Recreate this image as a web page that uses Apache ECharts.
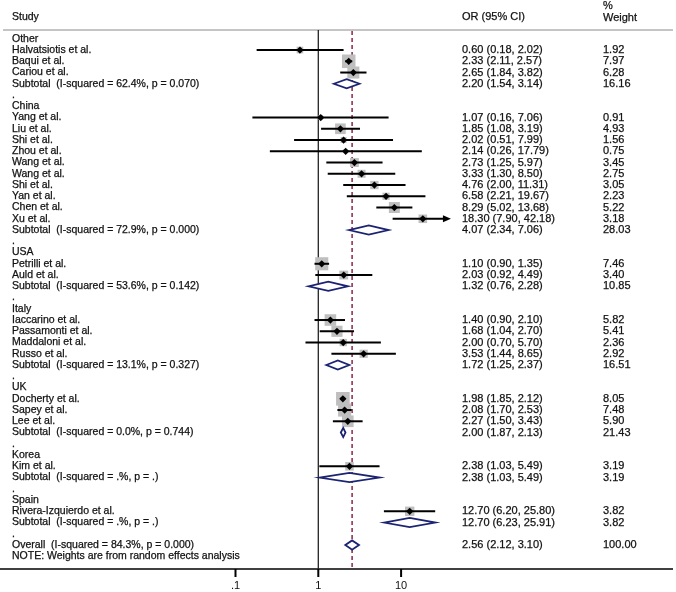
<!DOCTYPE html>
<html><head><meta charset="utf-8">
<script src="https://cdn.jsdelivr.net/npm/echarts@6/dist/echarts.min.js"></script>
<style>html,body{margin:0;padding:0;background:#fff}#c{width:676px;height:592px}</style>
</head><body><div id="c"></div>
<script>
// ---------- data ----------
const rowLabels = [
  'Other','Halvatsiotis et al.','Baqui et al.','Cariou et al.','Subtotal  (I-squared = 62.4%, p = 0.070)','.',
  'China','Yang et al.','Liu et al.','Shi et al.','Zhou et al.','Wang et al.','Wang et al.','Shi et al.','Yan et al.','Chen et al.','Xu et al.','Subtotal  (I-squared = 72.9%, p = 0.000)','.',
  'USA','Petrilli et al.','Auld et al.','Subtotal  (I-squared = 53.6%, p = 0.142)','.',
  'Italy','Iaccarino et al.','Passamonti et al.','Maddaloni et al.','Russo et al.','Subtotal  (I-squared = 13.1%, p = 0.327)','.',
  'UK','Docherty et al.','Sapey et al.','Lee et al.','Subtotal  (I-squared = 0.0%, p = 0.744)','.',
  'Korea','Kim et al.','Subtotal  (I-squared = .%, p = .)','.',
  'Spain','Rivera-Izquierdo et al.','Subtotal  (I-squared = .%, p = .)','.',
  'Overall  (I-squared = 84.3%, p = 0.000)'
];
// g = group header, s = study, t = subtotal, b = blank, o = overall
const rowKind = [
  'g','s','s','s','t','b',
  'g','s','s','s','s','s','s','s','s','s','s','t','b',
  'g','s','s','t','b',
  'g','s','s','s','s','t','b',
  'g','s','s','s','t','b',
  'g','s','t','b',
  'g','s','t','b',
  'o'
];
const rowOR = [
  null,0.60,2.33,2.65,2.20,null,
  null,1.07,1.85,2.02,2.14,2.73,3.33,4.76,6.58,8.29,18.30,4.07,null,
  null,1.10,2.03,1.32,null,
  null,1.40,1.68,2.00,3.53,1.72,null,
  null,1.98,2.08,2.27,2.00,null,
  null,2.38,2.38,null,
  null,12.70,12.70,null,
  2.56
];
const rowLo = [
  null,0.18,2.11,1.84,1.54,null,
  null,0.16,1.08,0.51,0.26,1.25,1.30,2.00,2.21,5.02,7.90,2.34,null,
  null,0.90,0.92,0.76,null,
  null,0.90,1.04,0.70,1.44,1.25,null,
  null,1.85,1.70,1.50,1.87,null,
  null,1.03,1.03,null,
  null,6.20,6.23,null,
  2.12
];
const rowHi = [
  null,2.02,2.57,3.82,3.14,null,
  null,7.06,3.19,7.99,17.79,5.97,8.50,11.31,19.67,13.68,42.18,7.06,null,
  null,1.35,4.49,2.28,null,
  null,2.10,2.70,5.70,8.65,2.37,null,
  null,2.12,2.53,3.43,2.13,null,
  null,5.49,5.49,null,
  null,25.80,25.91,null,
  3.10
];
const rowWeight = [
  null,1.92,7.97,6.28,16.16,null,
  null,0.91,4.93,1.56,0.75,3.45,2.75,3.05,2.23,5.22,3.18,28.03,null,
  null,7.46,3.40,10.85,null,
  null,5.82,5.41,2.36,2.92,16.51,null,
  null,8.05,7.48,5.90,21.43,null,
  null,3.19,3.19,null,
  null,3.82,3.82,null,
  100.00
];
const headerTexts = ['Study', 'OR (95% CI)', '%', 'Weight'];
const noteText = 'NOTE: Weights are from random effects analysis';
const tickValues = [0.1, 1, 10];
const tickLabels = ['.1', '1', '10'];
const nullValue = 1;
const arrowClip = 40;

// ---------- style ----------
const FF = '"Liberation Sans", Arial, Helvetica, sans-serif';
const FONT_L = '10.5px ' + FF;
const FONT_N = '11px ' + FF;
const COL_LABEL = 12, COL_OR = 462, COL_W = 603;
const BOX_K = 4.8;
const NAVY = '#1b2372';
const DASH = '#8c2442';
const TXT = '#111';
const AXIS_Y = 569;

const overallIdx = rowKind.indexOf('o');
const textData = rowLabels.map((_, i) => [nullValue, i]);
const markData = [];
rowOR.forEach((v, i) => { if (v != null) markData.push([v, i, rowLo[i], rowHi[i], rowWeight[i]]); });
const refData = [[nullValue, 5, 0], [rowOR[overallIdx], 5, 1]];

function txt(text, x, y, font) {
  return { type: 'text', style: { text: text, x: x, y: y, font: font, fill: TXT, verticalAlign: 'middle', stroke: TXT, lineWidth: 0.25 } };
}

function renderText(params, api) {
  const i = api.value(1);
  const y = api.coord([nullValue, i])[1];
  const ch = [txt(rowLabels[i], COL_LABEL, y, FONT_L)];
  if (rowOR[i] != null) {
    ch.push(txt(rowOR[i].toFixed(2) + ' (' + rowLo[i].toFixed(2) + ', ' + rowHi[i].toFixed(2) + ')', COL_OR, y, FONT_N));
    ch.push(txt(rowWeight[i].toFixed(2), COL_W, y, FONT_N));
  }
  return { type: 'group', children: ch };
}

function renderMark(params, api) {
  const est = api.value(0), i = api.value(1), lo = api.value(2), hi = api.value(3), w = api.value(4);
  const kind = rowKind[i];
  const pm = api.coord([est, i]);
  const xl = api.coord([lo, i])[0];
  const y = pm[1];
  const ch = [];
  if (kind === 's') {
    const clipped = hi > arrowClip;
    const xh = api.coord([clipped ? arrowClip : hi, i])[0];
    const s = BOX_K * Math.sqrt(w);
    ch.push({ type: 'rect', shape: { x: pm[0] - s / 2, y: y - s / 2, width: s, height: s }, style: { fill: '#bfbfbf' } });
    ch.push({ type: 'line', shape: { x1: xl, y1: y, x2: clipped ? xh - 6 : xh, y2: y }, style: { stroke: '#000', lineWidth: 2 } });
    if (clipped) {
      ch.push({ type: 'polygon', shape: { points: [[xh, y], [xh - 8, y - 3.5], [xh - 8, y + 3.5]] }, style: { fill: '#000' } });
    }
    const d = 3.6;
    ch.push({ type: 'polygon', shape: { points: [[pm[0] - d, y], [pm[0], y - d], [pm[0] + d, y], [pm[0], y + d]] }, style: { fill: '#000' } });
  } else {
    const xh = api.coord([hi, i])[0];
    const h = 4.6;
    ch.push({ type: 'polygon', shape: { points: [[xl, y], [pm[0], y - h], [xh, y], [pm[0], y + h]] }, style: { fill: '#fff', stroke: NAVY, lineWidth: 1.8 } });
  }
  return { type: 'group', children: ch };
}

function renderRef(params, api) {
  const x = api.coord([api.value(0), 5])[0];
  const cs = params.coordSys;
  const kind = api.value(2);
  const yb = cs.y + cs.height;
  return {
    type: 'line',
    shape: { x1: x, y1: cs.y + (kind === 1 ? 1 : 0), x2: x, y2: yb },
    style: kind === 1 ? { stroke: DASH, lineWidth: 1.5, lineDash: [4, 3] } : { stroke: '#222', lineWidth: 1.3 }
  };
}

const baseGraphic = [
  { id: 'topline', type: 'line', shape: { x1: 3, y1: 30, x2: 673, y2: 30 }, style: { stroke: '#8a8a8a', lineWidth: 1 }, z: 1 },
  { id: 'axisline', type: 'line', shape: { x1: 0, y1: AXIS_Y, x2: 673, y2: AXIS_Y }, style: { stroke: '#000', lineWidth: 1.5 }, z: 1 },
  Object.assign({ id: 'h0' }, txt(headerTexts[0], COL_LABEL, 17, FONT_L)),
  Object.assign({ id: 'h1' }, txt(headerTexts[1], COL_OR, 17, FONT_N)),
  Object.assign({ id: 'h2' }, txt(headerTexts[2], COL_W, 6, FONT_N)),
  Object.assign({ id: 'h3' }, txt(headerTexts[3], COL_W, 18, FONT_N)),
  Object.assign({ id: 'note' }, txt(noteText, COL_LABEL, 556, FONT_L))
];

const chart = echarts.init(document.getElementById('c'), null, { renderer: 'canvas' });
chart.setOption({
  animation: false,
  backgroundColor: '#fff',
  grid: { left: 152.7, right: 192.1, top: 30, bottom: 592 - AXIS_Y, containLabel: false },
  xAxis: {
    type: 'log', logBase: 10, min: 0.01, max: 100, position: 'bottom',
    axisLine: { show: false, onZero: false },
    splitLine: { show: false },
    minorTick: { show: false },
    axisTick: { show: false },
    axisLabel: {
      show: true, customValues: tickValues, margin: 11, color: TXT, fontSize: 11, fontFamily: FF,
      formatter: function (v) {
        let best = 0;
        tickValues.forEach((t, k) => { if (Math.abs(Math.log10(t) - Math.log10(v)) < Math.abs(Math.log10(tickValues[best]) - Math.log10(v))) best = k; });
        return tickLabels[best];
      }
    }
  },
  yAxis: { type: 'value', inverse: true, min: -0.78, max: 47.13, show: false },
  graphic: baseGraphic,
  series: [
    { type: 'custom', name: 'ref', data: refData, encode: { x: 0, y: 1 }, renderItem: renderRef, clip: false, z: 1, silent: true },
    { type: 'custom', name: 'marks', data: markData, encode: { x: [0, 2, 3], y: 1 }, renderItem: renderMark, clip: false, z: 3, silent: true },
    { type: 'custom', name: 'text', data: textData, encode: { x: 0, y: 1 }, renderItem: renderText, clip: false, z: 4, silent: true }
  ]
});
// axis tick marks placed through the x axis scale
const tickGraphics = tickValues.map((v, k) => {
  const x = chart.convertToPixel({ xAxisIndex: 0 }, v);
  return { id: 'tick' + k, type: 'rect', shape: { x: x - 1, y: AXIS_Y, width: 2, height: 8 }, style: { fill: '#000' }, z: 50 };
});
chart.setOption({ graphic: baseGraphic.concat(tickGraphics) });
</script></body></html>
